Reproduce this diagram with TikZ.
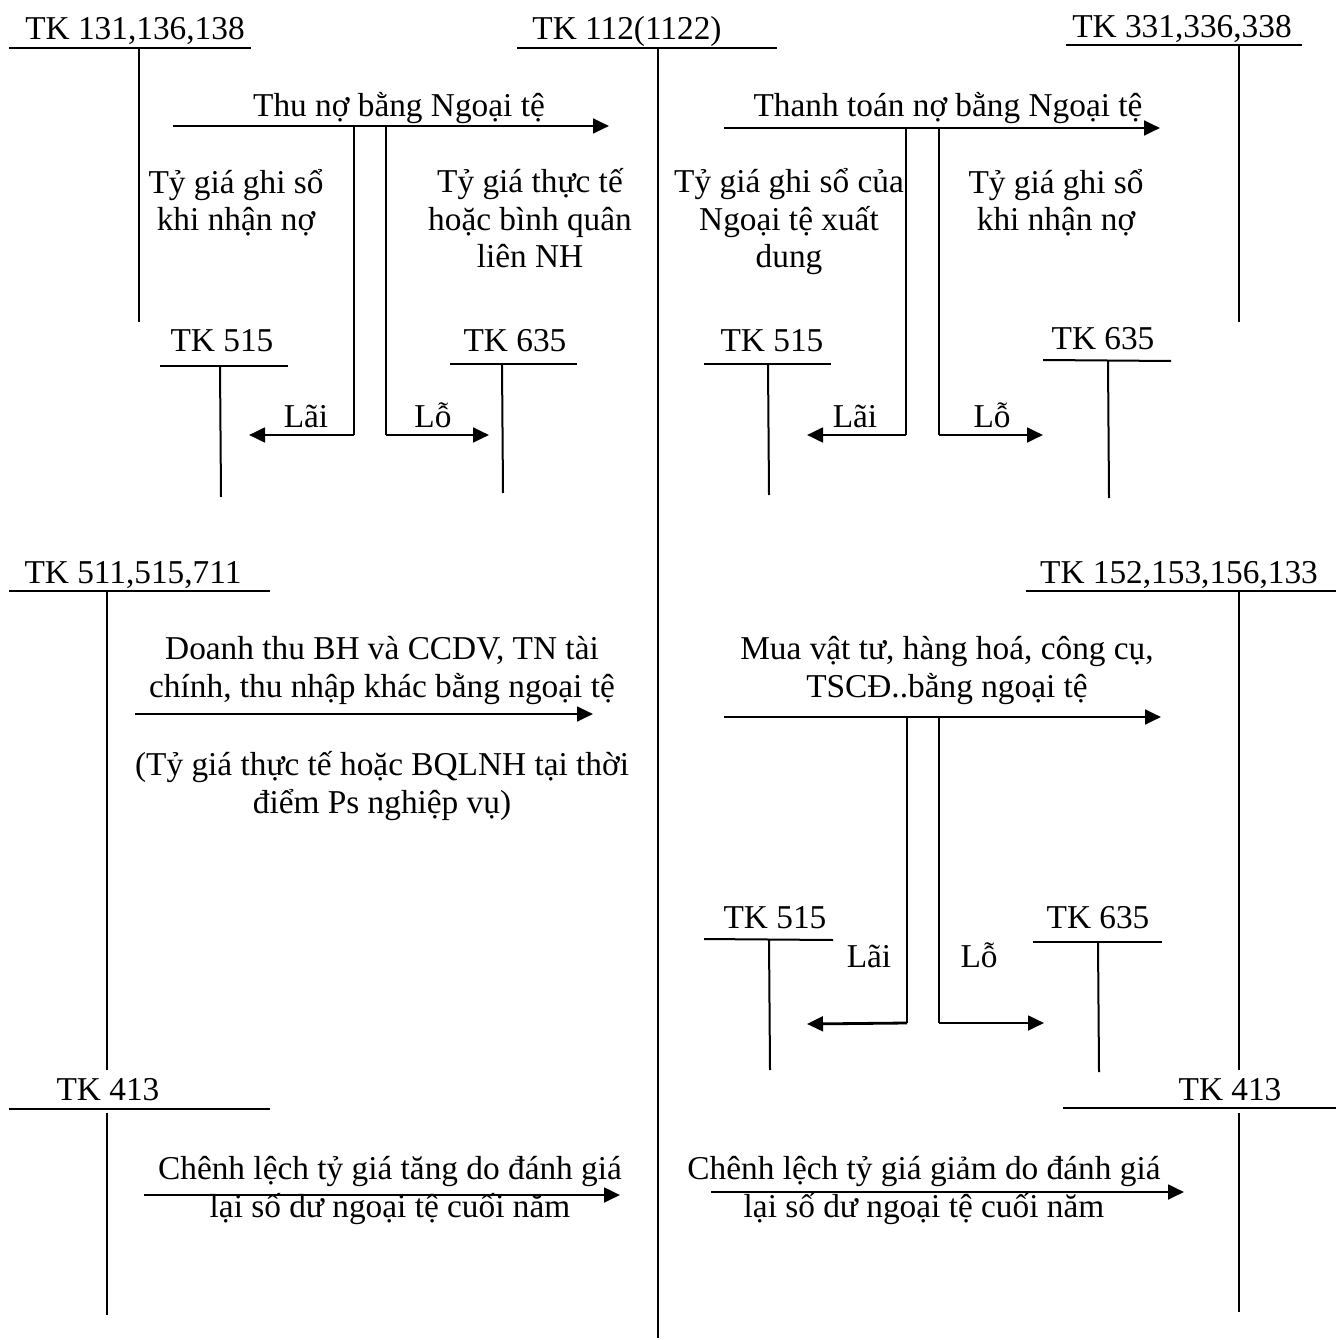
\documentclass[tikz,border=0pt]{standalone}
\usepackage{fontspec}
\setmainfont{Liberation Serif}
\usetikzlibrary{arrows.meta}
\begin{document}
\begin{tikzpicture}[x=0.375pt,y=-0.375pt,
  tl/.style={line width=0.75pt},
  fl/.style={line width=1.05pt},
  ar/.style={line width=1.05pt,-{Triangle[length=6pt,width=5.5pt]}},
  lbl/.style={inner sep=0pt,anchor=base,font=\fontsize{12.5}{14.1}\selectfont},
  ml/.style={lbl,align=center}]
\useasboundingbox (0,0) rectangle (1336,1340);
% ---------- T-account coordinates ----------
\coordinate (a1l) at (9,48);   \coordinate (a1r) at (251,48);
\coordinate (a1t) at (139,48); \coordinate (a1b) at (139,322);
\coordinate (b1l) at (517,48); \coordinate (b1r) at (777,48);
\coordinate (b1t) at (658,48); \coordinate (b1b) at (658,1338);
\coordinate (c1l) at (1066,45); \coordinate (c1r) at (1302,45);
\coordinate (c1t) at (1239,45); \coordinate (c1b) at (1239,322);
\coordinate (d1l) at (160,366); \coordinate (d1r) at (288,366);
\coordinate (d1t) at (220,366); \coordinate (d1b) at (221,497);
\coordinate (e1l) at (450,364); \coordinate (e1r) at (577,364);
\coordinate (e1t) at (502,364); \coordinate (e1b) at (503,493);
\coordinate (f1l) at (704,364); \coordinate (f1r) at (831,364);
\coordinate (f1t) at (768,364); \coordinate (f1b) at (769,495);
\coordinate (g1l) at (1043,360); \coordinate (g1r) at (1171,361);
\coordinate (g1t) at (1108,361); \coordinate (g1b) at (1109,498);
\coordinate (h1l) at (9,591);  \coordinate (h1r) at (270,591);
\coordinate (h1t) at (107,591); \coordinate (h1b) at (107,1070);
\coordinate (i1l) at (1026,591); \coordinate (i1r) at (1336,591);
\coordinate (i1t) at (1239,591); \coordinate (i1b) at (1239,1070);
\coordinate (j1l) at (704,939); \coordinate (j1r) at (833,940);
\coordinate (j1t) at (769,939); \coordinate (j1b) at (770,1070);
\coordinate (k1l) at (1033,942); \coordinate (k1r) at (1162,942);
\coordinate (k1t) at (1098,942); \coordinate (k1b) at (1099,1072);
\coordinate (m1l) at (9,1109); \coordinate (m1r) at (270,1109);
\coordinate (m1t) at (107,1113); \coordinate (m1b) at (107,1315);
\coordinate (n1l) at (1063,1108); \coordinate (n1r) at (1336,1108);
\coordinate (n1t) at (1239,1113); \coordinate (n1b) at (1239,1312);
% ---------- T-accounts ----------
\foreach \t in {a1,b1,c1,d1,e1,f1,g1,h1,i1,j1,k1,m1,n1}{
  \draw[tl] (\t l) -- (\t r);
  \draw[tl] (\t t) -- (\t b);
}
% ---------- account titles ----------
\node[lbl] (ta) at (135,40) {TK 131,136,138};
\node[lbl] (tb) at (627,40) {TK 112(1122)};
\node[lbl] (tc) at (1182,38) {TK 331,336,338};
\node[lbl] (td) at (222,352) {TK 515};
\node[lbl] (te) at (515,352) {TK 635};
\node[lbl] (tf) at (772,352) {TK 515};
\node[lbl] (tg) at (1103,350) {TK 635};
\node[lbl] (th) at (133,583) {TK 511,515,711};
\node[lbl] (ti) at (1179,583) {TK 152,153,156,133};
\node[lbl] (tj) at (775,928) {TK 515};
\node[lbl] (tk) at (1098,928) {TK 635};
\node[lbl] (tm) at (108,1100) {TK 413};
\node[lbl] (tn) at (1230,1100) {TK 413};
% ---------- top left flow ----------
\coordinate (p1s) at (173,126); \coordinate (p1e) at (609,126);
\coordinate (p1a) at (354,126); \coordinate (p1b) at (354,435); \coordinate (p1c) at (249,435);
\coordinate (p1d) at (386,126); \coordinate (p1f) at (386,435); \coordinate (p1g) at (489,435);
\draw[ar] (p1s) -- (p1e);
\draw[fl] (p1a) -- (p1b);
\draw[ar] (p1b) -- (p1c);
\draw[fl] (p1d) -- (p1f);
\draw[ar] (p1f) -- (p1g);
\node[lbl] (l1) at (399,117) {Thu nợ bằng Ngoại tệ};
\node[ml] (l2) at (236,231) {Tỷ giá ghi sổ\\khi nhận nợ};
\node[ml] (l3) at (530,268) {Tỷ giá thực tế\\hoặc bình quân\\liên NH};
\node[lbl] (l4) at (306,428) {Lãi};
\node[lbl] (l5) at (433,428) {Lỗ};
% ---------- top right flow ----------
\coordinate (p2s) at (724,128); \coordinate (p2e) at (1160,128);
\coordinate (p2a) at (906,128); \coordinate (p2b) at (906,435); \coordinate (p2c) at (807,435);
\coordinate (p2d) at (939,128); \coordinate (p2f) at (939,435); \coordinate (p2g) at (1043,435);
\draw[ar] (p2s) -- (p2e);
\draw[fl] (p2a) -- (p2b);
\draw[ar] (p2b) -- (p2c);
\draw[fl] (p2d) -- (p2f);
\draw[ar] (p2f) -- (p2g);
\node[lbl] (r1) at (948,117) {Thanh toán nợ bằng Ngoại tệ};
\node[ml] (r2) at (789,268) {Tỷ giá ghi sổ của\\Ngoại tệ xuất\\dung};
\node[ml] (r3) at (1056,231) {Tỷ giá ghi sổ\\khi nhận nợ};
\node[lbl] (r4) at (855,428) {Lãi};
\node[lbl] (r5) at (992,428) {Lỗ};
% ---------- middle left ----------
\coordinate (p3s) at (135,714); \coordinate (p3e) at (593,714);
\draw[ar] (p3s) -- (p3e);
\node[ml] (m1) at (382,697) {Doanh thu BH và CCDV, TN tài\\chính, thu nhập khác bằng ngoại tệ};
\node[ml] (m2) at (382,813) {(Tỷ giá thực tế hoặc BQLNH tại thời\\điểm Ps nghiệp vụ)};
% ---------- middle right ----------
\coordinate (p4s) at (724,717); \coordinate (p4e) at (1161,717);
\coordinate (p4a) at (907,717); \coordinate (p4b) at (907,1023); \coordinate (p4c) at (807,1024);
\coordinate (p4d) at (939,717); \coordinate (p4f) at (939,1023); \coordinate (p4g) at (1044,1023);
\draw[ar] (p4s) -- (p4e);
\draw[fl] (p4a) -- (p4b);
\draw[ar] (p4b) -- (p4c);
\draw[fl] (p4d) -- (p4f);
\draw[ar] (p4f) -- (p4g);
\node[ml] (n1) at (947,697) {Mua vật tư, hàng hoá, công cụ,\\TSCĐ..bằng ngoại tệ};
\node[lbl] (n2) at (869,967) {Lãi};
\node[lbl] (n3) at (979,967) {Lỗ};
% ---------- bottom ----------
\coordinate (p5s) at (144,1195); \coordinate (p5e) at (620,1195);
\draw[ar] (p5s) -- (p5e);
\node[ml] (q1) at (390,1217) {Chênh lệch tỷ giá tăng do đánh giá\\lại số dư ngoại tệ cuối năm};
\coordinate (p6s) at (711,1192); \coordinate (p6e) at (1184,1192);
\draw[ar] (p6s) -- (p6e);
\node[ml] (q2) at (924,1217) {Chênh lệch tỷ giá giảm do đánh giá\\lại số dư ngoại tệ cuối năm};
\end{tikzpicture}
\end{document}
